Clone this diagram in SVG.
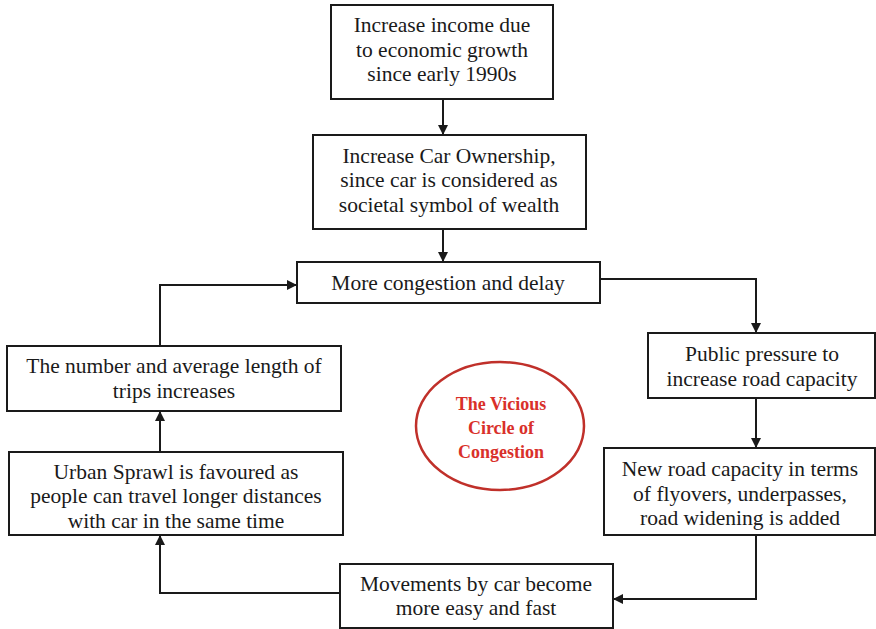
<svg xmlns="http://www.w3.org/2000/svg" width="876" height="629" viewBox="0 0 876 629">
<defs>
<marker id="ah" viewBox="0 0 10 10" refX="10" refY="5" markerWidth="10" markerHeight="10" markerUnits="userSpaceOnUse" orient="auto">
<path d="M0,0 L10,5 L0,10 z" fill="#1a1a1a"/>
</marker>
<style>
.box{fill:#fff;stroke:#1a1a1a;stroke-width:2}
.t{font-family:"Liberation Serif","Times New Roman",serif;font-size:21.5px;fill:#1a1a1a;text-anchor:middle}
.r{font-family:"Liberation Serif","Times New Roman",serif;font-size:18px;font-weight:bold;fill:#d9302a;text-anchor:middle}
.c{fill:none;stroke:#1a1a1a;stroke-width:2;marker-end:url(#ah)}
</style>
</defs>
<rect width="876" height="629" fill="#fff"/>
<g id="connectors">
<path class="c" d="M443,99 V135"/>
<path class="c" d="M443,229 V262"/>
<path class="c" d="M600,279 H756 V333"/>
<path class="c" d="M756,398 V448"/>
<path class="c" d="M756,535 V599 H613"/>
<path class="c" d="M340,593 H160 V535"/>
<path class="c" d="M160,452 V411"/>
<path class="c" d="M160,346 V285 H297"/>
</g>
<g id="n1"><rect class="box" x="331" y="5" width="222" height="94"/>
<text class="t" x="442" y="32">Increase income due</text>
<text class="t" x="442" y="57">to economic growth</text>
<text class="t" x="442" y="81">since early 1990s</text></g>
<g id="n2"><rect class="box" x="313" y="135" width="273" height="94"/>
<text class="t" x="449" y="163">Increase Car Ownership,</text>
<text class="t" x="449" y="187">since car is considered as</text>
<text class="t" x="449" y="212">societal symbol of wealth</text></g>
<g id="n3"><rect class="box" x="297" y="262" width="303" height="41"/>
<text class="t" x="448" y="290">More congestion and delay</text></g>
<g id="n4"><rect class="box" x="648" y="333" width="227" height="65"/>
<text class="t" x="762" y="361">Public pressure to</text>
<text class="t" x="762" y="386">increase road capacity</text></g>
<g id="n5"><rect class="box" x="604" y="448" width="271" height="87"/>
<text class="t" x="740" y="476">New road capacity in terms</text>
<text class="t" x="740" y="501">of flyovers, underpasses,</text>
<text class="t" x="740" y="525">road widening is added</text></g>
<g id="n6"><rect class="box" x="340" y="564" width="273" height="64"/>
<text class="t" x="476" y="591">Movements by car become</text>
<text class="t" x="476" y="615">more easy and fast</text></g>
<g id="n7"><rect class="box" x="9" y="452" width="334" height="83"/>
<text class="t" x="176" y="479">Urban Sprawl is favoured as</text>
<text class="t" x="176" y="503">people can travel longer distances</text>
<text class="t" x="176" y="528">with car in the same time</text></g>
<g id="n8"><rect class="box" x="7" y="346" width="334" height="65"/>
<text class="t" x="174" y="373">The number and average length of</text>
<text class="t" x="174" y="398">trips increases</text></g>
<g id="center"><ellipse cx="500" cy="426" rx="84" ry="64" fill="none" stroke="#c0302a" stroke-width="2.5"/>
<text class="r" x="501" y="410">The Vicious</text>
<text class="r" x="501" y="434">Circle of</text>
<text class="r" x="501" y="458">Congestion</text></g>
</svg>
